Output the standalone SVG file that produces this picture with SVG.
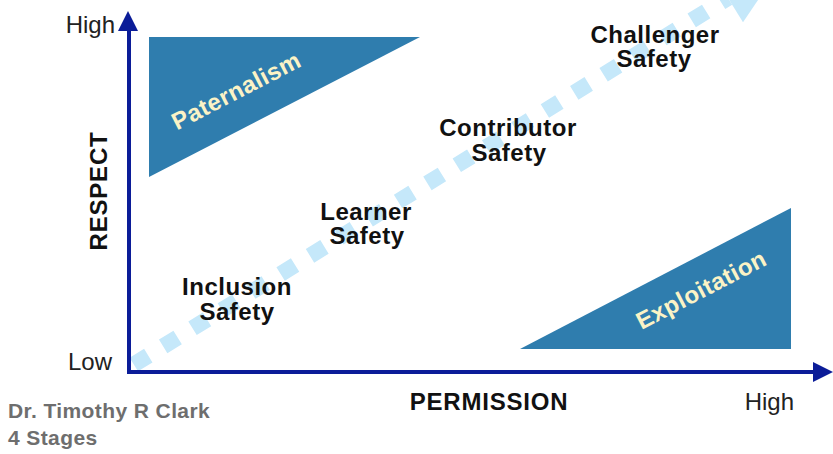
<svg xmlns="http://www.w3.org/2000/svg" width="833" height="454" viewBox="0 0 833 454">
  <style>
    .zone { fill: #2F7DAE; }
    .zone-label { font-family: "Liberation Sans", Arial, sans-serif; font-weight: bold; font-size: 24px; fill: #FBF3C6; text-anchor: middle; letter-spacing: 0.5px; }
    .stage { font-family: "Liberation Sans", Arial, sans-serif; font-weight: bold; font-size: 24px; fill: #111; text-anchor: middle; letter-spacing: 0.5px; }
    .axis-title { font-family: "Liberation Sans", Arial, sans-serif; font-weight: bold; font-size: 24px; fill: #111; text-anchor: middle; letter-spacing: 0.8px; }
    .tick { font-family: "Liberation Sans", Arial, sans-serif; font-size: 24px; fill: #222; }
    .credit { font-family: "Liberation Sans", Arial, sans-serif; font-weight: bold; font-size: 21px; fill: #6E6E6E; letter-spacing: 0.4px; }
    .axis { stroke: #0B1C98; stroke-width: 4; fill: none; }
    .axis-head { fill: #0B1C98; }
    .progress { stroke: #C5E8FA; stroke-width: 16; fill: none; stroke-dasharray: 17 17.5; }
    .progress-head { fill: #C5E8FA; }
  </style>

  <!-- quadrant zones -->
  <g id="paternalism">
    <polygon class="zone" points="149,37 420,37 149,177"/>
    <text class="zone-label" transform="translate(240,98) rotate(-27.3)">Paternalism</text>
  </g>
  <g id="exploitation">
    <polygon class="zone" points="520,349 791,349 791,208"/>
    <text class="zone-label" transform="translate(705,297) rotate(-27.5)">Exploitation</text>
  </g>

  <!-- connectors: progression arrow and the two axes -->
  <g id="connectors">
    <path class="progress" d="M133.8,364.5 L728,-2"/>
    <polygon class="progress-head" points="743,22.2 713,-26.2 782,-35.4"/>
    <line class="axis" x1="129" y1="373" x2="129" y2="28"/>
    <polygon class="axis-head" points="128,11 138,31 118,31"/>
    <line class="axis" x1="127" y1="372" x2="815" y2="372"/>
    <polygon class="axis-head" points="833,372 813,362 813,382"/>
  </g>

  <!-- safety stages -->
  <g id="inclusion-safety">
    <text class="stage"><tspan x="237" y="295">Inclusion</tspan><tspan x="237" y="320">Safety</tspan></text>
  </g>
  <g id="learner-safety">
    <text class="stage"><tspan x="366" y="220">Learner</tspan><tspan x="367" y="244">Safety</tspan></text>
  </g>
  <g id="contributor-safety">
    <text class="stage"><tspan x="508" y="136">Contributor</tspan><tspan x="509" y="161">Safety</tspan></text>
  </g>
  <g id="challenger-safety">
    <text class="stage"><tspan x="655" y="43">Challenger</tspan><tspan x="654" y="67">Safety</tspan></text>
  </g>

  <!-- axis labels -->
  <g id="axis-labels">
    <text class="tick" x="115" y="33" text-anchor="end">High</text>
    <text class="tick" x="112" y="370" text-anchor="end">Low</text>
    <text class="tick" x="794" y="410" text-anchor="end">High</text>
    <text class="axis-title" x="489" y="410">PERMISSION</text>
    <text class="axis-title" transform="translate(107,191) rotate(-90)">RESPECT</text>
  </g>

  <!-- attribution -->
  <g id="credit">
    <text class="credit"><tspan x="8" y="418">Dr. Timothy R Clark</tspan><tspan x="8" y="445">4 Stages</tspan></text>
  </g>
</svg>
